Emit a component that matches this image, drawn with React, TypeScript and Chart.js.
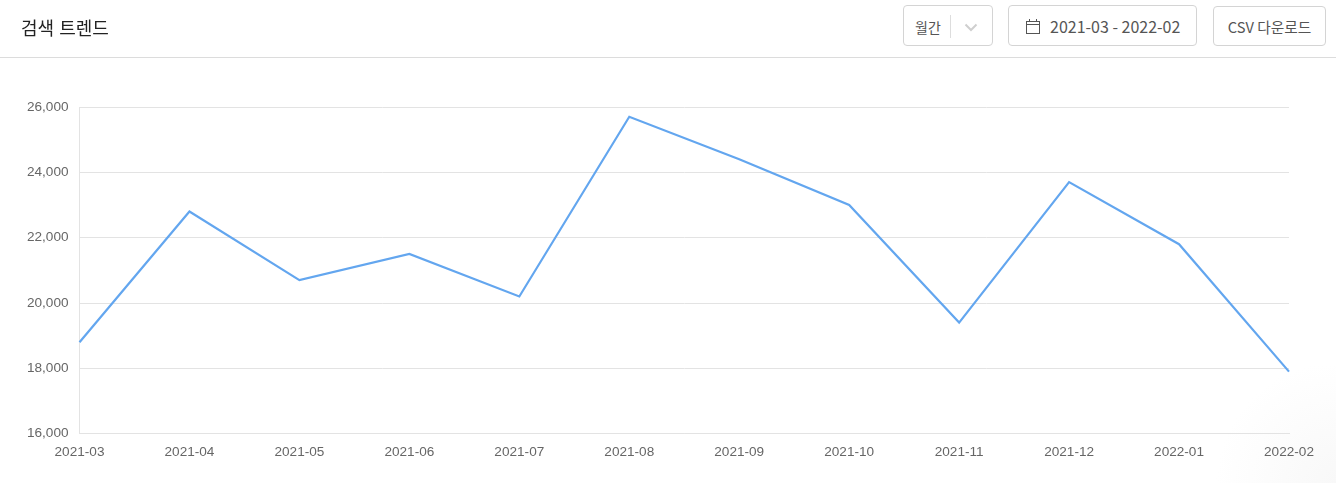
import React, { useEffect, useRef } from "react";
import { Chart, registerables } from "chart.js";

Chart.register(...registerables);

const categories = ["2021-03", "2021-04", "2021-05", "2021-06", "2021-07", "2021-08", "2021-09", "2021-10", "2021-11", "2021-12", "2022-01", "2022-02"];
const searchValues = [18800, 22800, 20700, 21500, 20200, 25700, 24400, 23000, 19400, 23700, 21800, 17900];

const cjk = '"Noto Sans CJK KR", "Noto Sans", sans-serif';
const btn: React.CSSProperties = {
  position: "absolute", boxSizing: "border-box", border: "1px solid #d4d4d4", borderRadius: 4,
  background: "#fff", color: "#555", fontFamily: cjk, display: "flex", alignItems: "center", whiteSpace: "nowrap",
};

export default function App() {
  const ref = useRef<HTMLCanvasElement>(null);
  useEffect(() => {
    document.body.style.margin = "0";
    const chart = new Chart(ref.current!, {
      type: "line",
      data: {
        labels: categories,
        datasets: [{ label: "검색 트렌드", data: searchValues, borderColor: "#63a6ef", borderWidth: 2.2, pointRadius: 0, tension: 0, fill: false, clip: false as any }],
      },
      options: {
        responsive: false,
        animation: false,
        layout: { padding: { top: 107, right: 47, bottom: 13, left: 0 } },
        plugins: { legend: { display: false }, tooltip: { enabled: false } },
        scales: {
          x: {
            offset: false,
            grid: { display: false, drawTicks: false },
            border: { color: "#e3e3e3" },
            ticks: { color: "#666", font: { family: '"Liberation Sans", Arial, sans-serif', size: 13.6 }, padding: 10, maxRotation: 0, autoSkip: false },
          },
          y: {
            min: 16000,
            max: 26000,
            afterFit: (s: any) => { s.width = 79.5; },
            grid: { color: "#e3e3e3", drawTicks: false },
            border: { color: "#e3e3e3" },
            ticks: {
              stepSize: 2000,
              color: "#666",
              padding: 11,
              font: { family: '"Liberation Sans", Arial, sans-serif', size: 13.6 },
              callback: (v: any) => Number(v).toLocaleString("en-US"),
            },
          },
        },
      },
    });
    return () => chart.destroy();
  }, []);

  return (
    <div style={{ position: "relative", width: 1336, height: 483, overflow: "hidden", background: "radial-gradient(circle at 100% 100%, #f8f8f8 0, #ffffff 120px)" }}>
      <canvas ref={ref} width={1336} height={483} style={{ position: "absolute", left: 0, top: 0 }} />
      <div style={{ position: "absolute", left: 0, top: 57, width: 1336, height: 1, background: "#dcdcdc" }} />
      <div style={{ position: "absolute", left: 21, top: 15, fontSize: 18, wordSpacing: 1, lineHeight: "24px", color: "#222", fontFamily: '"Noto Sans CJK KR", sans-serif' }}>검색 트렌드</div>

      <div style={{ ...btn, left: 903, top: 5, width: 90, height: 41, fontSize: 14 }}>
        <span style={{ marginLeft: 11, marginTop: 2 }}>월간</span>
        <span style={{ position: "absolute", left: 46, top: 9, width: 1, height: 23, background: "#ddd" }} />
        <svg style={{ position: "absolute", left: 60, top: 17 }} width="14" height="9" viewBox="0 0 14 9">
          <path d="M1.5 1.5 L7 7 L12.5 1.5" fill="none" stroke="#cfcfcf" strokeWidth="2" />
        </svg>
      </div>

      <div style={{ ...btn, left: 1008, top: 5, width: 189, height: 41, fontSize: 16 }}>
        <svg style={{ position: "absolute", left: 16, top: 12 }} width="16" height="17" viewBox="0 0 16 17">
          <rect x="1.5" y="3.5" width="13" height="12" fill="none" stroke="#555" />
          <path d="M1.5 6.5 H14.5 M4.5 1 V4 M11.5 1 V4" fill="none" stroke="#555" />
        </svg>
        <span style={{ marginLeft: 41 }}>2021-03 - 2022-02</span>
      </div>

      <div style={{ ...btn, left: 1213, top: 6, width: 113, height: 40, fontSize: 14.7, justifyContent: "center" }}>CSV 다운로드</div>
    </div>
  );
}
